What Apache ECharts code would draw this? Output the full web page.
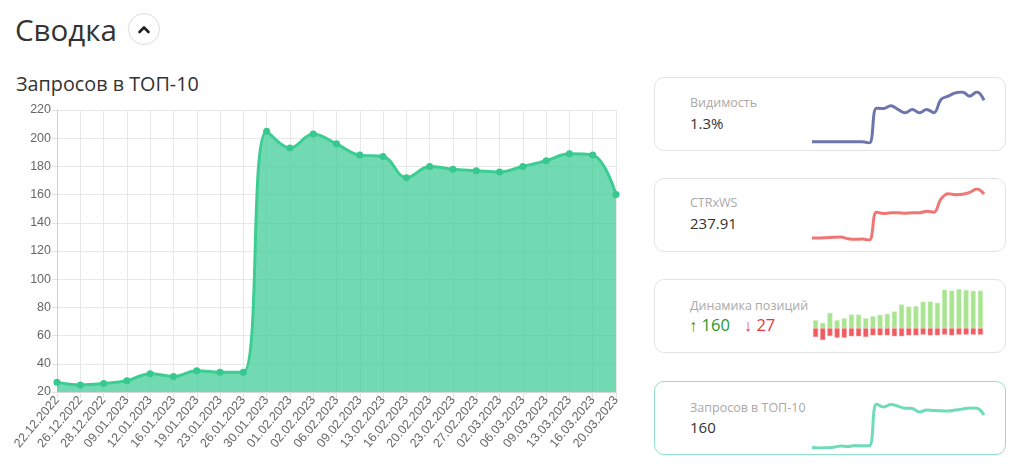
<!DOCTYPE html>
<html>
<head>
<meta charset="utf-8">
<title>Сводка</title>
<script src="https://cdn.jsdelivr.net/npm/echarts@6/dist/echarts.min.js"></script>
<style>
  html, body { margin: 0; padding: 0; background: #fff; }
  body { width: 1024px; height: 467px; position: relative; overflow: hidden; font-family: "Open Sans", "Noto Sans", sans-serif; }
  .abs { position: absolute; white-space: nowrap; }
  .card { position: absolute; left: 654px; width: 352px; height: 74px; border: 1px solid #e3e3e3; border-radius: 10px; box-sizing: border-box; }
  .lbl { color: #a9a9a9; font-size: 12.5px; line-height: 18px; }
  .val { color: #333; font-size: 15px; line-height: 20px; }
  #chart { position: absolute; left: 0; top: 0; width: 1024px; height: 467px; }
</style>
</head>
<body>
  <!-- шапка -->
  <div class="abs" style="left:15px;top:10px;font-size:29.5px;line-height:40px;color:#333;">Сводка</div>
  <div class="abs" style="left:128px;top:13px;width:32px;height:32px;border:1px solid #dcdcdc;border-radius:50%;box-sizing:border-box;">
    <svg width="30" height="30" style="position:absolute;left:0;top:0"><polyline points="10.5,18 15,13.5 19.5,18" fill="none" stroke="#222" stroke-width="2.6" stroke-linecap="round" stroke-linejoin="round"/></svg>
  </div>
  <div class="abs" style="left:16px;top:72px;font-size:19.8px;line-height:24px;color:#333;">Запросов в ТОП-10</div>

  <!-- карточки -->
  <div class="card" style="top:77px;"></div>
  <div class="card" style="top:178px;"></div>
  <div class="card" style="top:279px;"></div>
  <div class="card" style="top:381px;border-color:#8fe3c4;"></div>

  <div class="abs lbl" style="left:690px;top:94px;">Видимость</div>
  <div class="abs val" style="left:690px;top:113px;">1.3%</div>
  <div class="abs lbl" style="left:690px;top:194px;">CTRxWS</div>
  <div class="abs val" style="left:690px;top:213px;">237.91</div>
  <div class="abs lbl" style="left:690px;top:297px;">Динамика позиций</div>
  <div class="abs" style="left:689px;top:314px;font-size:16.5px;line-height:22px;">
    <span style="color:#1f9a2e;">↑ 160</span><span style="color:#e8363a;margin-left:14px;">↓ 27</span>
  </div>
  <div class="abs lbl" style="left:690px;top:399px;">Запросов в ТОП-10</div>
  <div class="abs val" style="left:690px;top:417px;">160</div>

  <div id="chart"></div>

<script type="text/javascript">
  // даты
  var dates = ['22.12.2022', '26.12.2022', '28.12.2022', '09.01.2023', '12.01.2023', '16.01.2023',
    '19.01.2023', '23.01.2023', '26.01.2023', '30.01.2023', '01.02.2023', '02.02.2023', '06.02.2023',
    '09.02.2023', '13.02.2023', '16.02.2023', '20.02.2023', '23.02.2023', '27.02.2023', '02.03.2023',
    '06.03.2023', '09.03.2023', '13.03.2023', '16.03.2023', '20.03.2023'];
  // запросов в топ-10
  var top10 = [27, 25, 26, 28, 33, 31, 35, 34, 34, 205, 193, 203, 196, 188, 187, 172, 180, 178, 177, 176, 180, 184, 189, 188, 160];
  // видимость, %
  var visibility = [0.3, 0.3, 0.3, 0.3, 0.3, 0.3, 0.3, 0.3, 0.27, 1.11, 1.1, 1.17, 1.08, 1.0, 1.08, 1.0, 1.08, 1.0, 1.32, 1.4, 1.48, 1.5, 1.4, 1.5, 1.3];
  // CTRxWS
  var ctr = [131.5, 131.5, 132.3, 133.1, 133.9, 129.9, 128.3, 129.1, 126.7, 193.9, 190.7, 192.3, 192.3, 191.5, 192.3, 192.3, 196.3, 193.9, 225.9, 238.7, 236.3, 237.1, 241.9, 249.9, 237.91];
  // динамика позиций
  var posUp = [34, 23, 65, 34, 42, 58, 58, 42, 51, 57, 61, 71, 101, 92, 93, 113, 113, 108, 164, 160, 167, 163, 159, 160];
  var posDown = [-37, -50, -33, -40, -40, -34, -34, -37, -30, -30, -30, -34, -34, -30, -30, -27, -30, -30, -27, -30, -27, -27, -27, -27];
  var yTicks = [20, 220, 20]; // min, max, шаг

  var myChart = echarts.init(document.getElementById('chart'));

  var barIdx = posUp.map(function (v, i) { return i; });

  function sparkAxes(idx, cats) {
    return {
      x: { type: 'category', gridIndex: idx, data: cats, boundaryGap: cats === barIdx, show: false },
      y: { type: 'value', gridIndex: idx, show: false, scale: true, min: 'dataMin', max: 'dataMax' }
    };
  }
  var s1 = sparkAxes(1, dates), s2 = sparkAxes(2, dates), s3 = sparkAxes(3, barIdx), s4 = sparkAxes(4, dates);
  s3.y.min = Math.min.apply(null, posDown);
  s3.y.max = Math.max.apply(null, posUp);

  var axisFont = '"Liberation Sans", Arial, sans-serif';

  myChart.setOption({
    animation: false,
    grid: [
      { left: 57, top: 110, width: 559, height: 282 },
      { left: 812, top: 92, width: 172, height: 51 },
      { left: 812, top: 189, width: 172, height: 51 },
      { left: 812, top: 289, width: 172, height: 51 },
      { left: 812, top: 404, width: 172, height: 44 }
    ],
    xAxis: [
      {
        type: 'category', gridIndex: 0, data: dates, boundaryGap: false,
        axisLine: { lineStyle: { color: '#d6d6d6' } },
        axisTick: { show: true, length: 6, lineStyle: { color: '#e3e3e3' } },
        splitLine: { show: true, lineStyle: { color: '#e8e8e8' } },
        axisLabel: { interval: 0, rotate: 50, color: '#666', fontSize: 12.5, fontFamily: axisFont, margin: 6 }
      },
      s1.x, s2.x, s3.x, s4.x
    ],
    yAxis: [
      {
        type: 'value', gridIndex: 0, min: yTicks[0], max: yTicks[1], interval: yTicks[2],
        axisLine: { show: true, lineStyle: { color: '#cfcfcf' } },
        axisTick: { show: true, length: 5, lineStyle: { color: '#e3e3e3' } },
        splitLine: { lineStyle: { color: '#e8e8e8' } },
        axisLabel: { color: '#666', fontSize: 12.5, fontFamily: axisFont, margin: 6 }
      },
      s1.y, s2.y, s3.y, s4.y
    ],
    series: [
      {
        name: 'Запросов в ТОП-10', type: 'line', xAxisIndex: 0, yAxisIndex: 0, data: top10,
        smooth: 0.4, symbol: 'circle', symbolSize: 7,
        itemStyle: { color: '#36c88e' },
        lineStyle: { color: '#3ccd93', width: 3 },
        areaStyle: { color: 'rgba(60,204,148,0.72)', opacity: 1, origin: 'start' }
      },
      {
        type: 'line', xAxisIndex: 1, yAxisIndex: 1, data: visibility, smooth: 0.4, showSymbol: false,
        lineStyle: { color: '#6e74ae', width: 3 }
      },
      {
        type: 'line', xAxisIndex: 2, yAxisIndex: 2, data: ctr, smooth: 0.4, showSymbol: false,
        lineStyle: { color: '#f07676', width: 3 }
      },
      {
        type: 'bar', xAxisIndex: 3, yAxisIndex: 3, data: posUp, stack: 'pos', barWidth: 5,
        itemStyle: { color: '#a9e591', borderColor: '#c2eeb0', borderWidth: 0.5 }
      },
      {
        type: 'bar', xAxisIndex: 3, yAxisIndex: 3, data: posDown, stack: 'pos', barWidth: 5,
        itemStyle: { color: '#ef5b60', borderColor: '#f58e90', borderWidth: 0.5 }
      },
      {
        type: 'line', xAxisIndex: 4, yAxisIndex: 4, data: top10, smooth: 0.4, showSymbol: false,
        lineStyle: { color: '#6fdcb8', width: 3 }
      }
    ]
  });
</script>
</body>
</html>
